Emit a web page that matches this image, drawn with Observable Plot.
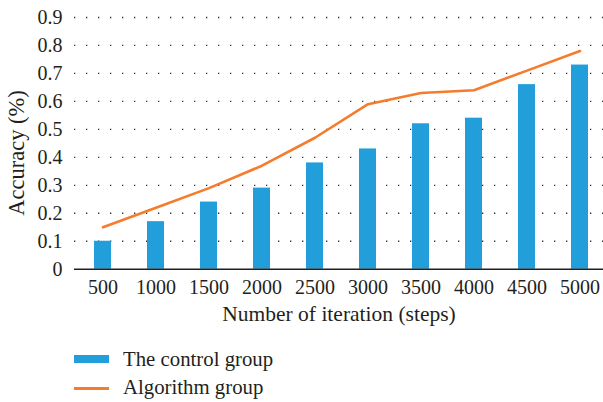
<!DOCTYPE html>
<html><head><meta charset="utf-8">
<script src="https://cdn.jsdelivr.net/npm/d3@7"></script>
<script src="https://cdn.jsdelivr.net/npm/@observablehq/plot@0.6"></script>
<style>
body{margin:0;background:#fff;overflow:hidden;font-family:"Liberation Serif","Times New Roman","DejaVu Serif",serif;}
#wrap{position:relative;width:603px;height:402px;}
#wrap svg{position:absolute;left:0;top:0;font-family:"Liberation Serif","Times New Roman","DejaVu Serif",serif !important;}
#wrap svg text{font-family:"Liberation Serif","Times New Roman","DejaVu Serif",serif !important;}
.sw{position:absolute;left:74px;width:35px;}
.lt{position:absolute;left:123px;font-size:20.8px;line-height:20px;color:#231f20;white-space:nowrap;}
</style></head><body><div id="wrap"></div>
<script>
const iterations = ["500","1000","1500","2000","2500","3000","3500","4000","4500","5000"];
const controlGroup = [0.10,0.17,0.24,0.29,0.38,0.43,0.52,0.54,0.66,0.73];
const algorithmGroup = [0.15,0.22,0.29,0.37,0.47,0.59,0.63,0.64,0.71,0.78];
const yTicks = [0,0.1,0.2,0.3,0.4,0.5,0.6,0.7,0.8,0.9];
const yTickLabels = ["0","0.1","0.2","0.3","0.4","0.5","0.6","0.7","0.8","0.9"];
const seriesNames = ["The control group","Algorithm group"];
const xTitle = "Number of iteration (steps)";
const yTitle = "Accuracy (%)";
const blue = "#229fda", orange = "#f47c2c", ink = "#231f20";

const data = iterations.map((it,i)=>({it, control: controlGroup[i], algo: algorithmGroup[i]}));

const chart = Plot.plot({
  width: 603, height: 330,
  marginLeft: 74, marginRight: 0, marginTop: 17, marginBottom: 61.3,
  style: {fontSize:"20px", color: ink, background:"#fff", overflow:"visible"},
  x: {type:"band", domain: iterations, range:[74, 608.3], paddingInner:0.682, paddingOuter:0.337, align:0.5},
  y: {domain:[0,0.9]},
  marks: [
    Plot.gridY(yTicks.slice(1), {stroke:"#333", strokeOpacity:1, strokeDasharray:"1.3,10.7", strokeWidth:1.3}),
    Plot.barY(data, {x:"it", y:"control", fill: blue}),
    Plot.ruleY([0], {stroke: ink, strokeWidth:1.5}),
    Plot.line(data, {x:"it", y:"algo", stroke: orange, strokeWidth:2.6}),
    Plot.axisY({ticks: yTicks, tickFormat: d => yTickLabels[yTicks.indexOf(d)], tickSize:0, tickPadding:12, label:null, fontSize:20, fill: ink}),
    Plot.axisX({tickSize:0, tickPadding:11, label:null, fontSize:20, fill: ink}),
    Plot.text([xTitle], {frameAnchor:"bottom", textAnchor:"middle", lineAnchor:"middle", text: d=>d, dy:45.1, fontSize:21.5, fill: ink}),
    Plot.text([yTitle], {frameAnchor:"left", textAnchor:"middle", lineAnchor:"middle", text: d=>d, rotate:-90, dx:-58, dy:9.6, fontSize:22.5, fill: ink})
  ]
});
const wrap = document.getElementById("wrap");
wrap.appendChild(chart);

const legend = [
  {name: seriesNames[0], color: blue, top: 355, h: 8, textTop: 349},
  {name: seriesNames[1], color: orange, top: 387, h: 2.6, textTop: 376.5}
];
for (const l of legend) {
  const s = document.createElement("div");
  s.className = "sw"; s.style.top = l.top + "px"; s.style.height = l.h + "px"; s.style.background = l.color;
  wrap.appendChild(s);
  const t = document.createElement("div");
  t.className = "lt"; t.style.top = l.textTop + "px"; t.textContent = l.name;
  wrap.appendChild(t);
}
</script></body></html>
